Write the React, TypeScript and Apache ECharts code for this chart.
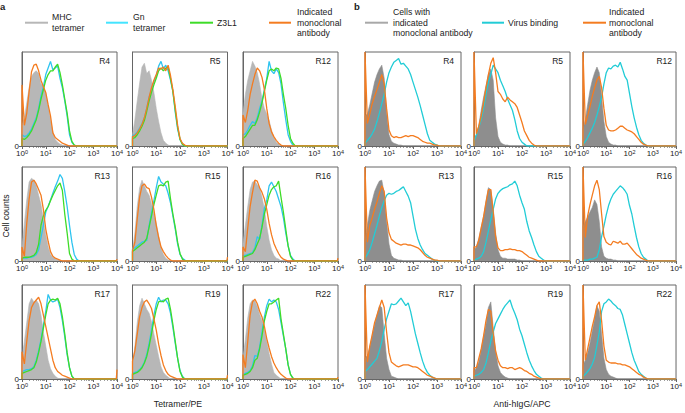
import React, { useEffect, useRef } from "react";
import * as echarts from "echarts";

const FONT = '"Liberation Sans", Arial, Helvetica, sans-serif';

// ---------- axis ticks ----------
const MINOR_FACTORS = [2, 3, 4, 5, 6, 7, 8, 9];
const DECADE_STARTS = [1, 10, 100, 1000];

// ---------- panel names ----------
const panelNames = ["R4", "R5", "R12", "R13", "R15", "R16", "R17", "R19", "R22"];

// ---------- panel a: histogram heights (% of panel), every 0.1 decade from 10^0 ----------
const aR4Mhc = [22, 30, 46, 62, 74, 78, 80, 77, 66, 64, 56, 42, 28, 15, 7, 4, 2, 1, 0];
const aR4Gn = [12, 10, 11, 14, 18, 24, 30, 40, 53, 63, 76, 83, 90, 81, 83, 85, 72, 62, 48, 32, 12, 4, 1, 0];
const aR4Z3 = [8, 7, 9, 12, 16, 22, 28, 38, 50, 60, 70, 76, 80, 80, 84, 87, 78, 65, 50, 35, 16, 5, 1, 0];
const aR4Mab = [65, 22, 35, 58, 79, 86, 87, 80, 70, 63, 57, 44, 32, 14, 9, 7, 5, 3, 2, 1, 0];

const aR5Mhc = [12, 28, 48, 67, 84, 88, 77, 80, 70, 57, 40, 26, 14, 6, 3, 1, 0];
const aR5Gn = [11, 12, 15, 19, 24, 30, 40, 52, 60, 68, 75, 85, 90, 82, 86, 80, 70, 58, 36, 18, 7, 2, 0];
const aR5Z3 = [8, 9, 12, 16, 21, 27, 37, 48, 57, 65, 72, 80, 83, 80, 83, 84, 72, 58, 38, 20, 7, 2, 0];
const aR5Mab = [10, 11, 14, 18, 23, 30, 40, 52, 62, 70, 76, 83, 82, 84, 80, 86, 75, 60, 42, 22, 8, 3, 1, 0];

const aR12Mhc = [35, 55, 70, 80, 90, 85, 78, 66, 50, 40, 34, 27, 17, 9, 4, 2, 0];
const aR12Gn = [12, 13, 17, 22, 26, 24, 30, 40, 48, 60, 72, 90, 80, 77, 82, 78, 66, 46, 28, 12, 5, 1, 0];
const aR12Z3 = [8, 10, 14, 18, 22, 22, 28, 36, 46, 58, 70, 80, 82, 80, 83, 82, 72, 55, 40, 22, 8, 3, 0];
const aR12Mab = [33, 25, 38, 55, 66, 76, 83, 80, 73, 60, 40, 24, 15, 10, 6, 3, 1, 0];

const aR13Mhc = [15, 40, 65, 84, 88, 86, 80, 70, 60, 44, 28, 15, 7, 4, 2, 1, 0];
const aR13Gn = [3, 3, 3, 4, 4, 5, 7, 12, 25, 38, 52, 58, 65, 72, 79, 85, 92, 88, 74, 58, 38, 20, 7, 2, 0];
const aR13Z3 = [3, 4, 4, 4, 5, 6, 9, 18, 38, 48, 54, 58, 64, 70, 75, 80, 83, 75, 50, 30, 8, 2, 0];
const aR13Mab = [15, 5, 40, 66, 84, 86, 82, 76, 70, 55, 34, 21, 10, 5, 3, 2, 1, 0];

const aR15Mhc = [11, 30, 58, 78, 86, 80, 74, 70, 61, 50, 40, 27, 14, 7, 3, 1, 0];
const aR15Gn = [13, 14, 16, 18, 20, 21, 22, 38, 51, 64, 78, 90, 84, 82, 80, 72, 62, 48, 34, 18, 7, 3, 1, 0];
const aR15Z3 = [10, 12, 14, 16, 18, 20, 24, 36, 48, 60, 70, 80, 81, 80, 84, 85, 66, 50, 36, 20, 8, 2, 0];
const aR15Mab = [11, 20, 45, 68, 80, 82, 78, 77, 68, 55, 38, 25, 15, 10, 6, 3, 1, 0];

const aR16Mhc = [19, 38, 58, 76, 84, 85, 81, 78, 68, 55, 37, 22, 12, 6, 3, 2, 0];
const aR16Gn = [6, 6, 7, 8, 9, 14, 26, 23, 38, 56, 65, 80, 84, 79, 74, 66, 58, 46, 30, 16, 6, 2, 0];
const aR16Z3 = [4, 5, 6, 7, 8, 12, 18, 24, 36, 50, 60, 70, 76, 79, 80, 85, 68, 52, 34, 16, 5, 1, 0];
const aR16Mab = [15, 10, 35, 58, 73, 86, 85, 78, 73, 66, 55, 40, 28, 19, 13, 8, 4, 2, 1, 0];

const aR17Mhc = [22, 40, 60, 80, 86, 82, 84, 80, 68, 50, 35, 20, 11, 6, 3, 1, 0];
const aR17Gn = [8, 9, 10, 10, 11, 13, 20, 30, 42, 57, 72, 90, 84, 82, 83, 85, 76, 62, 45, 26, 12, 3, 0];
const aR17Z3 = [6, 7, 8, 9, 10, 12, 18, 28, 40, 54, 68, 80, 84, 85, 84, 86, 80, 66, 48, 28, 12, 3, 0];
const aR17Mab = [29, 16, 40, 62, 76, 81, 84, 87, 80, 68, 56, 44, 32, 20, 12, 8, 6, 4, 3, 2, 1, 0];

const aR19Mhc = [15, 35, 60, 78, 86, 80, 74, 70, 61, 48, 36, 24, 13, 7, 4, 2, 0];
const aR19Gn = [6, 7, 8, 10, 13, 18, 26, 38, 52, 68, 80, 87, 82, 84, 84, 80, 70, 55, 38, 22, 9, 3, 0];
const aR19Z3 = [5, 6, 7, 9, 12, 17, 24, 35, 48, 62, 74, 82, 83, 82, 85, 86, 74, 58, 40, 22, 8, 2, 0];
const aR19Mab = [19, 30, 48, 66, 76, 82, 84, 80, 75, 64, 52, 37, 25, 15, 9, 5, 3, 2, 1, 0];

const aR22Mhc = [22, 42, 65, 80, 84, 83, 77, 69, 62, 52, 40, 27, 16, 7, 4, 2, 0];
const aR22Gn = [5, 6, 7, 9, 14, 25, 24, 34, 50, 66, 78, 85, 82, 84, 82, 74, 60, 46, 32, 15, 5, 1, 0];
const aR22Z3 = [4, 5, 6, 8, 12, 20, 22, 32, 46, 62, 72, 80, 80, 82, 84, 86, 64, 48, 32, 15, 5, 1, 0];
const aR22Mab = [26, 12, 40, 68, 82, 85, 80, 72, 66, 56, 43, 33, 24, 17, 12, 8, 5, 3, 1, 0];

// off-scale events of the antibody curve at 10^4 (panel a)
const aMabAtMax = [0, 0, 0, 2, 4, 3, 10, 4, 2];

// ---------- panel b ----------
const bR4Cells = [32, 34, 44, 56, 68, 76, 82, 86, 72, 36, 12, 5, 3, 2, 1, 1, 0];
const bR4Virus = [3, 6, 9, 13, 18, 26, 35, 45, 55, 68, 78, 84, 89, 91, 93, 87, 88, 85, 82, 76, 68, 60, 52, 43, 33, 23, 13, 6, 4, 2, 1, 0];
const bR4Mab = [100, 24, 34, 45, 53, 60, 68, 76, 66, 40, 17, 11, 9, 10, 9, 9, 10, 11, 10, 11, 11, 10, 9, 7, 5, 4, 3, 3, 2, 1, 1, 0];

const bR5Cells = [7, 12, 22, 38, 52, 64, 76, 82, 70, 30, 10, 4, 2, 1, 1, 0];
const bR5Virus = [5, 12, 20, 28, 40, 55, 68, 76, 86, 82, 78, 70, 64, 58, 50, 44, 38, 28, 16, 8, 4, 2, 0];
const bR5Mab = [100, 13, 21, 32, 46, 62, 76, 88, 94, 78, 58, 55, 50, 47, 52, 49, 47, 45, 41, 33, 25, 16, 11, 6, 3, 1, 0];

const bR12Cells = [18, 28, 44, 59, 70, 78, 84, 78, 52, 26, 10, 4, 2, 1, 1, 0];
const bR12Virus = [2, 5, 9, 14, 19, 25, 33, 42, 52, 66, 78, 83, 82, 85, 86, 84, 89, 82, 74, 70, 56, 42, 30, 20, 12, 6, 3, 1, 0];
const bR12Mab = [100, 23, 32, 42, 53, 62, 70, 74, 62, 40, 22, 17, 16, 16, 17, 19, 21, 21, 19, 17, 16, 15, 13, 10, 7, 4, 2, 1, 0];

const bR13Cells = [22, 38, 54, 64, 74, 80, 85, 86, 72, 42, 18, 6, 3, 2, 1, 1, 0];
const bR13Virus = [3, 7, 12, 20, 29, 38, 48, 57, 64, 70, 72, 71, 72, 74, 75, 77, 79, 74, 69, 62, 48, 34, 24, 17, 12, 8, 6, 4, 2, 1, 0];
const bR13Mab = [100, 20, 38, 46, 55, 63, 72, 80, 74, 46, 30, 23, 21, 19, 18, 17, 18, 18, 17, 17, 16, 15, 14, 12, 9, 6, 4, 3, 2, 1, 1, 0];

const bR15Cells = [12, 15, 24, 36, 48, 64, 78, 76, 56, 30, 12, 5, 3, 3, 2, 2, 2, 2, 1, 1, 0];
const bR15Virus = [1, 2, 3, 5, 10, 20, 32, 44, 55, 66, 72, 75, 77, 78, 79, 81, 82, 85, 80, 70, 62, 55, 42, 32, 25, 17, 10, 5, 3, 1, 0];
const bR15Mab = [15, 15, 22, 35, 47, 62, 76, 76, 52, 26, 14, 11, 11, 12, 12, 13, 12, 12, 11, 11, 10, 8, 6, 4, 3, 2, 1, 0];

const bR16Cells = [37, 42, 47, 52, 57, 65, 60, 42, 15, 5, 3, 2, 2, 1, 1, 0];
const bR16Virus = [1, 1, 1, 2, 2, 3, 4, 12, 26, 37, 49, 59, 66, 71, 74, 77, 80, 78, 75, 71, 59, 50, 37, 25, 15, 8, 4, 2, 0];
const bR16Mab = [100, 25, 48, 60, 70, 80, 86, 76, 50, 26, 20, 18, 17, 21, 20, 19, 21, 18, 18, 19, 16, 13, 10, 7, 5, 3, 2, 1, 0];

const bR17Cells = [22, 25, 34, 46, 58, 68, 78, 76, 48, 22, 10, 3, 2, 1, 0];
const bR17Virus = [8, 10, 13, 16, 19, 22, 30, 40, 53, 64, 72, 80, 79, 80, 83, 86, 82, 78, 81, 72, 60, 48, 38, 28, 19, 12, 7, 4, 2, 1, 0];
const bR17Mab = [100, 18, 35, 47, 60, 68, 76, 84, 76, 50, 28, 18, 16, 14, 13, 14, 15, 15, 15, 14, 13, 13, 12, 10, 8, 6, 4, 3, 2, 1, 0];

const bR19Cells = [8, 12, 18, 31, 45, 58, 76, 82, 55, 30, 14, 7, 4, 2, 1, 0];
const bR19Virus = [3, 4, 5, 7, 10, 17, 28, 40, 50, 59, 64, 69, 74, 78, 81, 84, 76, 70, 63, 53, 46, 37, 28, 20, 14, 9, 5, 3, 1, 0];
const bR19Mab = [12, 12, 22, 32, 46, 62, 74, 72, 48, 30, 20, 14, 12, 12, 11, 12, 12, 10, 11, 12, 11, 9, 8, 6, 5, 3, 2, 1, 0];

const bR22Cells = [15, 20, 28, 38, 51, 64, 78, 72, 48, 22, 10, 5, 3, 2, 1, 0];
const bR22Virus = [3, 5, 8, 11, 16, 23, 36, 50, 72, 80, 82, 85, 83, 80, 78, 75, 74, 68, 58, 48, 38, 28, 20, 14, 8, 5, 3, 1, 0];
const bR22Mab = [100, 20, 32, 44, 56, 66, 78, 82, 62, 35, 20, 18, 17, 17, 17, 16, 16, 15, 15, 14, 13, 11, 9, 7, 5, 4, 2, 1, 0];

// ---------- tables built from the arrays ----------
const panelA = [
  [aR4Mhc, aR4Gn, aR4Z3, aR4Mab],
  [aR5Mhc, aR5Gn, aR5Z3, aR5Mab],
  [aR12Mhc, aR12Gn, aR12Z3, aR12Mab],
  [aR13Mhc, aR13Gn, aR13Z3, aR13Mab],
  [aR15Mhc, aR15Gn, aR15Z3, aR15Mab],
  [aR16Mhc, aR16Gn, aR16Z3, aR16Mab],
  [aR17Mhc, aR17Gn, aR17Z3, aR17Mab],
  [aR19Mhc, aR19Gn, aR19Z3, aR19Mab],
  [aR22Mhc, aR22Gn, aR22Z3, aR22Mab],
];
const panelB = [
  [bR4Cells, bR4Virus, bR4Mab],
  [bR5Cells, bR5Virus, bR5Mab],
  [bR12Cells, bR12Virus, bR12Mab],
  [bR13Cells, bR13Virus, bR13Mab],
  [bR15Cells, bR15Virus, bR15Mab],
  [bR16Cells, bR16Virus, bR16Mab],
  [bR17Cells, bR17Virus, bR17Mab],
  [bR19Cells, bR19Virus, bR19Mab],
  [bR22Cells, bR22Virus, bR22Mab],
];

// ---------- styles / layout ----------
const FRAME = "#666";
const TEXT = "#222";
const GRAY_A = "#b7b7b7";
const GRAY_B = "#8e8e8e";
const CYAN_A = "#2ec4f0";
const CYAN_B = "#22ccd6";
const GREEN = "#3edc28";
const ORANGE = "#f47c20";

const A_LEFTS = [22, 132.5, 243];
const B_LEFTS = [365, 474, 583];
const A_W = 95;
const B_W = 96;
const TOPS = [52, 167, 285];
const H = 94;

function toPoints(vals: number[], atMax = 0): [number, number][] {
  const pts: [number, number][] = [[1, 0]];
  vals.forEach((v, i) => pts.push([Math.pow(10, i / 10), v]));
  const n = vals.length;
  if (vals[n - 1] !== 0) pts.push([Math.pow(10, n / 10), 0]);
  if (atMax > 0) {
    pts.push([Math.pow(10, 3.97), 0]);
    pts.push([10000, atMax]);
  } else {
    pts.push([10000, 0]);
  }
  return pts;
}

function buildOption() {
  const grid: any[] = [];
  const xAxis: any[] = [];
  const yAxis: any[] = [];
  const series: any[] = [];
  const graphic: any[] = [];

  const minorTicks: number[] = [];
  DECADE_STARTS.forEach((d) => MINOR_FACTORS.forEach((f) => minorTicks.push(d * f)));

  const addPanel = (left: number, top: number, width: number, name: string) => {
    const g = grid.length;
    grid.push({
      left,
      top,
      width,
      height: H,
      show: true,
      borderColor: FRAME,
      borderWidth: 1,
      backgroundColor: "transparent",
      containLabel: false,
    });
    xAxis.push({
      type: "log",
      logBase: 10,
      gridIndex: g,
      position: "bottom",
      min: 1,
      max: 10000,
      splitNumber: 4,
      axisLine: { show: true, lineStyle: { color: FRAME, width: 1 } },
      axisTick: { show: true, length: 3, lineStyle: { color: FRAME, width: 1 } },
      splitLine: { show: false },
      axisLabel: {
        margin: 3,
        formatter: (v: number) => `{b|10}{s|${Math.round(Math.log10(v))}}`,
        rich: {
          b: { fontSize: 8, color: TEXT, fontFamily: FONT, lineHeight: 9 },
          s: { fontSize: 5.5, color: TEXT, fontFamily: FONT, lineHeight: 5, verticalAlign: "top" },
        },
      },
    });
    xAxis.push({
      type: "log",
      logBase: 10,
      gridIndex: g,
      position: "bottom",
      min: 1,
      max: 10000,
      axisLine: { show: false },
      axisTick: { show: true, length: 1.8, customValues: minorTicks, lineStyle: { color: FRAME, width: 0.8 } },
      axisLabel: { show: false },
      splitLine: { show: false },
    });
    yAxis.push({
      type: "value",
      gridIndex: g,
      min: 0,
      max: 100,
      interval: 100,
      axisLine: { show: true, lineStyle: { color: FRAME, width: 1 } },
      axisTick: { show: true, length: 3, customValues: [0], lineStyle: { color: FRAME } },
      axisLabel: {
        customValues: [0],
        margin: 3,
        fontSize: 8,
        color: TEXT,
        fontFamily: FONT,
        formatter: (v: number) => (v === 0 ? "0" : ""),
      },
      splitLine: { show: false },
    });
    graphic.push({
      type: "text",
      x: left + width - 7,
      y: top + 9,
      silent: true,
      style: {
        text: name,
        fontSize: 8.5,
        fontFamily: FONT,
        fill: TEXT,
        align: "right",
        verticalAlign: "middle",
      },
    });
    return g;
  };

  const lineSeries = (g: number, data: [number, number][], color: string, width = 1.3) => ({
    type: "line",
    xAxisIndex: 2 * g,
    yAxisIndex: g,
    data,
    symbol: "none",
    silent: true,
    lineStyle: { color, width },
  });

  panelNames.forEach((name, i) => {
    const row = Math.floor(i / 3);
    const col = i % 3;
    const ga = addPanel(A_LEFTS[col], TOPS[row], A_W, name);
    const [mhc, gn, z3, mab] = panelA[i];
    series.push({
      ...lineSeries(ga, toPoints(mhc), GRAY_A, 0.6),
      areaStyle: { color: GRAY_A, opacity: 1 },
    });
    series.push(lineSeries(ga, toPoints(gn), CYAN_A));
    series.push(lineSeries(ga, toPoints(z3), GREEN));
    series.push(lineSeries(ga, toPoints(mab, aMabAtMax[i]), ORANGE));
  });
  panelNames.forEach((name, i) => {
    const row = Math.floor(i / 3);
    const col = i % 3;
    const gb = addPanel(B_LEFTS[col], TOPS[row], B_W, name);
    const [cells, virus, mab] = panelB[i];
    series.push({
      ...lineSeries(gb, toPoints(cells), GRAY_B, 0.6),
      areaStyle: { color: GRAY_B, opacity: 1 },
    });
    series.push(lineSeries(gb, toPoints(virus), CYAN_B));
    series.push(lineSeries(gb, toPoints(mab), ORANGE));
  });

  // ---------- legends, panel letters, axis titles ----------
  const txt = (x: number, y: number, text: string, extra: any = {}) => ({
    type: "text",
    x,
    y,
    silent: true,
    style: {
      text,
      fontSize: 8.7,
      lineHeight: 10.5,
      fontFamily: FONT,
      fill: TEXT,
      align: "left",
      verticalAlign: "middle",
      ...extra,
    },
  });
  const leg = (x1: number, x2: number, color: string) => ({
    type: "line",
    silent: true,
    shape: { x1, y1: 22.7, x2, y2: 22.7 },
    style: { stroke: color, lineWidth: 2 },
  });

  graphic.push(txt(0, 6, "a", { fontWeight: "bold", fontSize: 9.5 }));
  graphic.push(leg(25, 48, GRAY_A), txt(52, 22.7, "MHC\ntetramer"));
  graphic.push(leg(106, 128, "#44e4ff"), txt(133, 22.7, "Gn\ntetramer"));
  graphic.push(leg(190, 213, GREEN), txt(217, 22.7, "Z3L1"));
  graphic.push(leg(269, 291, ORANGE), txt(297, 22.7, "Indicated\nmonoclonal\nantibody"));

  graphic.push(txt(354, 6, "b", { fontWeight: "bold", fontSize: 9.5 }));
  graphic.push(leg(365, 388, "#a8a8a8"), txt(393, 22.7, "Cells with\nindicated\nmonoclonal antibody"));
  graphic.push(leg(482, 504, CYAN_B), txt(508, 22.7, "Virus binding"));
  graphic.push(leg(583, 606, ORANGE), txt(609, 22.7, "Indicated\nmonoclonal\nantibody"));

  graphic.push(txt(6, 216, "Cell counts", { align: "center" }));
  graphic[graphic.length - 1].rotation = Math.PI / 2;
  graphic.push(txt(178, 404, "Tetramer/PE", { align: "center" }));
  graphic.push(txt(522, 404, "Anti-hIgG/APC", { align: "center" }));

  return {
    animation: false,
    backgroundColor: "#ffffff",
    textStyle: { fontFamily: FONT },
    grid,
    xAxis,
    yAxis,
    series,
    graphic,
  };
}

export default function App() {
  const ref = useRef<HTMLDivElement>(null);
  useEffect(() => {
    if (!ref.current) return;
    const chart = echarts.init(ref.current, undefined, { renderer: "svg" });
    chart.setOption(buildOption() as any);
    return () => chart.dispose();
  }, []);
  return (
    <div
      ref={ref}
      style={{ position: "absolute", left: 0, top: 0, width: 685, height: 413 }}
    />
  );
}
